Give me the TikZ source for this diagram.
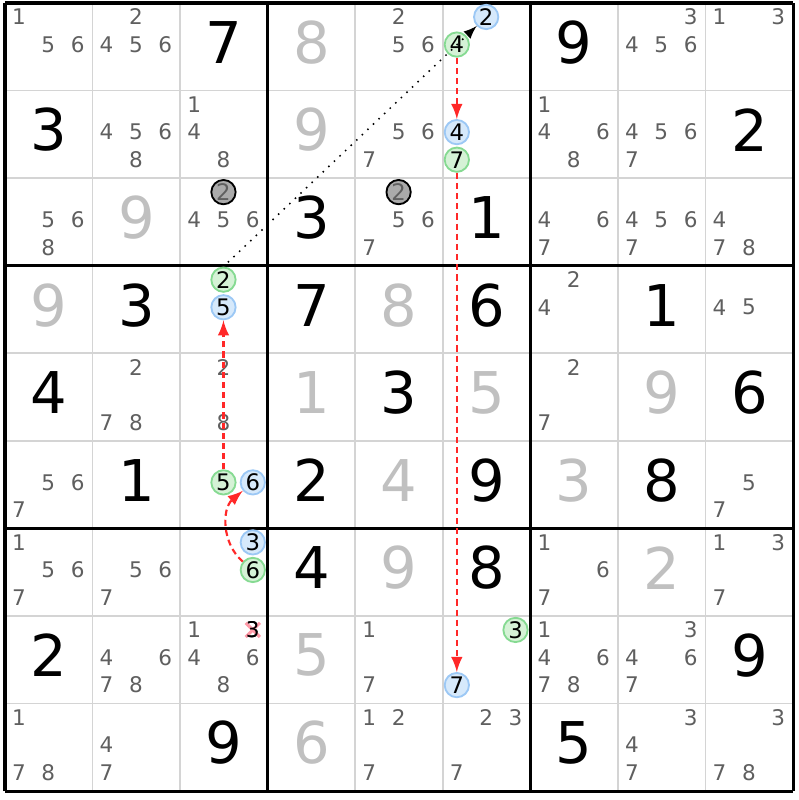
\documentclass[tikz,border=0pt]{standalone}
\usepackage{fontspec}
\setmainfont{DejaVu Sans}
\usetikzlibrary{arrows}

\definecolor{candgray}{HTML}{5F5F5F}
\definecolor{solvedgray}{HTML}{C0C0C0}
\definecolor{gridgray}{HTML}{D4D4D4}
\definecolor{onfill}{HTML}{D6E9FB}
\definecolor{ondraw}{HTML}{9CC8F5}
\definecolor{offfill}{HTML}{D5F2D6}
\definecolor{offdraw}{HTML}{86DA92}
\definecolor{markfill}{HTML}{AAAAAA}
\definecolor{linkred}{HTML}{FF2828}
\definecolor{crosspink}{HTML}{FF9AA8}

\tikzset{
  given/.style={font=\fontsize{18.7}{18.7}\selectfont, text=black, inner sep=0pt},
  solved/.style={font=\fontsize{18.7}{18.7}\selectfont, text=solvedgray, inner sep=0pt},
  cand/.style={font=\fontsize{7}{7}\selectfont, text=candgray, inner sep=0pt},
  oncand/.style={circle, draw=ondraw, fill=onfill, line width=0.6pt, inner sep=0pt,
    minimum size=7.9pt, font=\fontsize{7.4}{7.4}\selectfont, text=black},
  offcand/.style={oncand, draw=offdraw, fill=offfill},
  markcand/.style={oncand, draw=black, fill=markfill, text=candgray},
  chainlink/.style={linkred, line width=0.7pt, dash pattern=on 2pt off 1.3pt, -latex},
  weaklink/.style={black, line width=0.5pt, dotted, -latex}
}

\begin{document}
\begin{tikzpicture}
    \useasboundingbox (-0.057,-0.102) rectangle (9.057,9.034);

    % grid
    \draw[gridgray, line width=0.6pt] (0,0) grid (9,9);
    \draw[black, line width=1pt] (0,0) grid[step=3] (9,9);

    % givens and solved cells
    \foreach \r/\c/\d in {1/3/7, 1/7/9, 2/1/3, 2/9/2, 3/4/3, 3/6/1, 4/2/3, 4/4/7,
        4/6/6, 4/8/1, 5/1/4, 5/5/3, 5/9/6, 6/2/1, 6/4/2, 6/6/9, 6/8/8, 7/4/4,
        7/6/8, 8/1/2, 8/9/9, 9/3/9, 9/7/5}
      \node[given] (v\r\c) at (\c-0.5, 9.55-\r) {\d};
    \foreach \r/\c/\d in {1/4/8, 2/4/9, 3/2/9, 4/1/9, 4/5/8, 5/4/1, 5/6/5, 5/8/9,
        6/5/4, 6/7/3, 7/5/9, 7/8/2, 8/4/5, 9/4/6}
      \node[solved] (s\r\c) at (\c-0.5, 9.55-\r) {\d};

    % candidates
    \foreach \r/\c/\ds in {1/1/{1,5,6}, 1/2/{2,4,5,6}, 1/5/{2,5,6}, 1/8/{3,4,5,6},
        1/9/{1,3}, 2/2/{4,5,6,8}, 2/3/{1,4,8}, 2/5/{5,6,7}, 2/7/{1,4,6,8},
        2/8/{4,5,6,7}, 3/1/{5,6,8}, 3/3/{4,5,6}, 3/5/{5,6,7}, 3/7/{4,6,7},
        3/8/{4,5,6,7}, 3/9/{4,7,8}, 4/7/{2,4}, 4/9/{4,5}, 5/2/{2,7,8}, 5/3/{2,8},
        5/7/{2,7}, 6/1/{5,6,7}, 6/9/{5,7}, 7/1/{1,5,6,7}, 7/2/{5,6,7}, 7/7/{1,6,7},
        7/9/{1,3,7}, 8/2/{4,6,7,8}, 8/3/{1,4,6,8}, 8/5/{1,7}, 8/7/{1,4,6,7,8},
        8/8/{3,4,6,7}, 9/1/{1,7,8}, 9/2/{4,7}, 9/5/{1,2,7}, 9/6/{2,3,7},
        9/8/{3,4,7}, 9/9/{3,7,8}}
      \foreach \d in \ds {
        \pgfmathsetmacro\cx{\c-0.84+0.335*mod(\d-1,3)}
        \pgfmathsetmacro\cy{9.84-\r-0.315*div(\d-1,3)}
        \node[cand] (k\r\c\d) at (\cx,\cy) {\d};
      }

    % highlighted candidates
    \node[oncand] (b16) at (5.495,8.84) {2};
    \node[offcand] (g16) at (5.16,8.525) {4};
    \node[oncand] (b26) at (5.16,7.525) {4};
    \node[offcand] (g26) at (5.16,7.21) {7};
    \node[offcand] (g43) at (2.495,5.84) {2};
    \node[oncand] (b43) at (2.495,5.525) {5};
    \node[offcand] (g63) at (2.495,3.525) {5};
    \node[oncand] (b63) at (2.83,3.525) {6};
    \node[oncand] (b73) at (2.83,2.84) {3};
    \node[offcand] (g73) at (2.83,2.525) {6};
    \node[offcand] (g86) at (5.83,1.84) {3};
    \node[oncand] (b86) at (5.16,1.21) {7};
    \node[markcand] (m33) at (2.495,6.84) {2};
    \node[markcand] (m35) at (4.495,6.84) {2};

    % eliminated candidate
    \node[cand, text=black] (x83) at (2.83,1.84) {3};
    \draw[crosspink, line width=1pt] ([shift={(-2.3pt,-2.3pt)}]x83.center) -- ([shift={(2.3pt,2.3pt)}]x83.center);
    \draw[crosspink, line width=1pt] ([shift={(-2.3pt,2.3pt)}]x83.center) -- ([shift={(2.3pt,-2.3pt)}]x83.center);
    \node[cand, text=black] at (x83) {3};

    % links
    \draw[weaklink, shorten <=2pt] (g43.north) -- (b16);
    \draw[chainlink] (g16) -- (b26);
    \draw[chainlink] (g26) -- (b86);
    \draw[chainlink] (g63) -- (b43);
    \draw[chainlink] (g73) to[bend left=50] (b63);
  \end{tikzpicture}
\end{document}
